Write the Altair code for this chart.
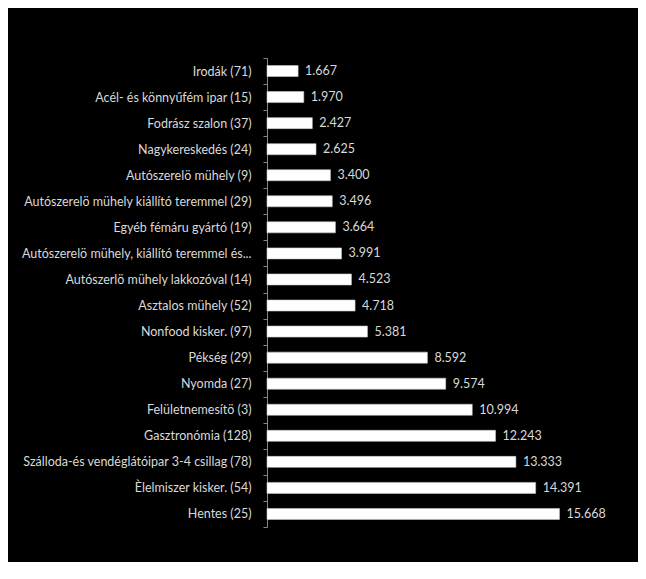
import altair as alt
import pandas as pd

categories = [
    "Irodák (71)",
    "Acél- és könnyűfém ipar (15)",
    "Fodrász szalon (37)",
    "Nagykereskedés (24)",
    "Autószerelö mühely (9)",
    "Autószerelö mühely kiállító teremmel (29)",
    "Egyéb fémáru gyártó (19)",
    "Autószerelö mühely, kiállító teremmel és...",
    "Autószerlö mühely lakkozóval (14)",
    "Asztalos mühely (52)",
    "Nonfood kisker. (97)",
    "Pékség (29)",
    "Nyomda (27)",
    "Felületnemesítö (3)",
    "Gasztronómia (128)",
    "Szálloda-és vendéglátóipar 3-4 csillag (78)",
    "Èlelmiszer kisker. (54)",
    "Hentes (25)",
]
values = [1667, 1970, 2427, 2625, 3400, 3496, 3664, 3991, 4523, 4718,
          5381, 8592, 9574, 10994, 12243, 13333, 14391, 15668]
labels = [f"{v:,}".replace(",", ".") for v in values]

df = pd.DataFrame({"cat": categories, "val": values, "label": labels})

TXT = "#d9d9d9"
FONT = "Lato"
FS = 12.5

y = alt.Y("cat:N", sort=categories, title=None,
          scale=alt.Scale(paddingInner=0, paddingOuter=0),
          axis=alt.Axis(tickBand="extent", domainColor="#868686", tickColor="#868686",
                        tickSize=4, labelPadding=12, labelColor=TXT, labelFont=FONT,
                        labelFontSize=FS, labelLimit=300))
x = alt.X("val:Q", title=None, axis=None, scale=alt.Scale(domain=[0, 18000], nice=False))

bars = alt.Chart(df).mark_bar(color="white", size=11, stroke="#c8c8c8", strokeWidth=0.6).encode(x=x, y=y)
text = alt.Chart(df).mark_text(align="left", baseline="middle", dx=7, color=TXT,
                               font=FONT, fontSize=FS).encode(x=x, y=y, text="label:N")

chart = (bars + text).properties(
    width=336, height=469, background="black",
    padding={"left": 259, "top": 50, "right": 35, "bottom": 35},
    autosize=alt.AutoSizeParams(type="none"),
).configure_view(stroke=None)

chart.save("out.html", embed_options={"renderer": "svg", "actions": False})
